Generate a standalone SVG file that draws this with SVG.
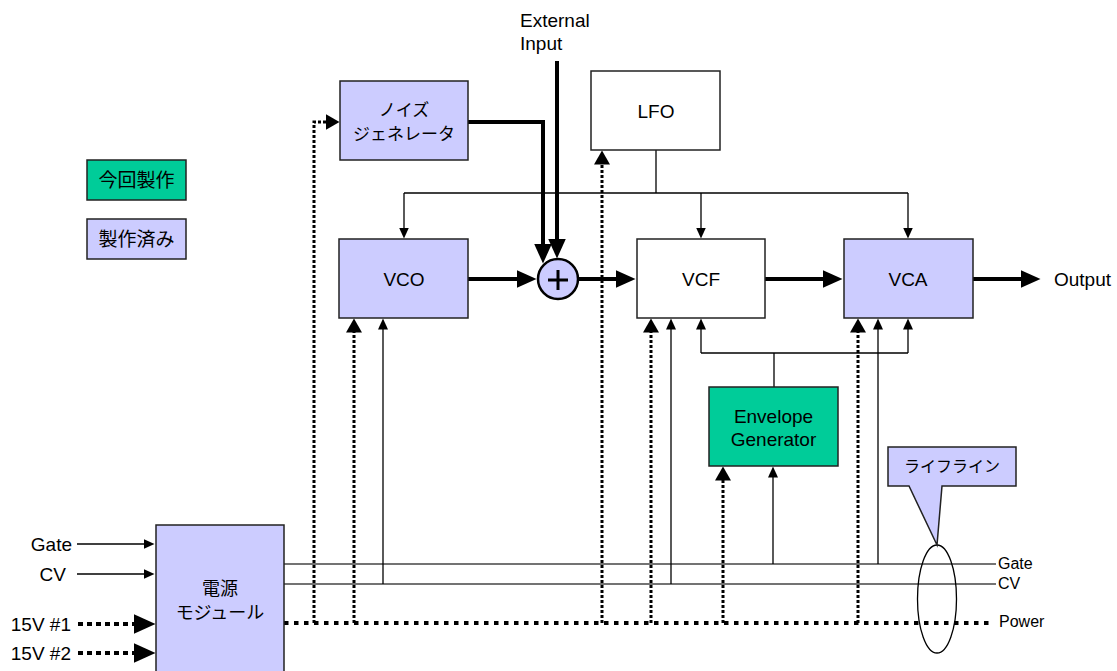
<svg xmlns="http://www.w3.org/2000/svg" width="1117" height="671" viewBox="0 0 1117 671">
<style>
.box{stroke:#222;stroke-width:1.5}
.lav{fill:#CCCCFF}
.grn{fill:#00CC99}
.wht{fill:#FFFFFF}
.t{font-family:"Liberation Sans",Arial,sans-serif;font-size:19px;fill:#000;text-anchor:middle}
.ts{font-family:"Liberation Sans",Arial,sans-serif;font-size:16px;fill:#000}
.j{font-family:"Liberation Sans","Noto Sans CJK JP",sans-serif;fill:#000;text-anchor:middle}
.thin{fill:none;stroke:#000;stroke-width:1.3}
.bus{fill:none;stroke:#444;stroke-width:1.5}
.thick{fill:none;stroke:#000;stroke-width:4}
.dot{fill:none;stroke:#000;stroke-width:3;stroke-dasharray:3 2}
.pwr{fill:none;stroke:#000;stroke-width:4;stroke-dasharray:4.5 5.5}
.pin{fill:none;stroke:#000;stroke-width:4;stroke-dasharray:5 4}
</style>
<defs>
<marker id="aThin" markerUnits="userSpaceOnUse" markerWidth="12" markerHeight="10" refX="0.5" refY="5" orient="auto"><path d="M0,0 L11,5 L0,10 z" fill="#000"/></marker>
<marker id="aDot" markerUnits="userSpaceOnUse" markerWidth="15" markerHeight="16" refX="0.5" refY="8" orient="auto"><path d="M0,0 L14,8 L0,16 z" fill="#000"/></marker>
<marker id="aThick" markerUnits="userSpaceOnUse" markerWidth="21" markerHeight="18" refX="0.5" refY="9" orient="auto"><path d="M0,0 L20,9 L0,18 z" fill="#000"/></marker>
<marker id="a15" markerUnits="userSpaceOnUse" markerWidth="23" markerHeight="20" refX="0.5" refY="10" orient="auto"><path d="M0,0 L22,10 L0,20 z" fill="#000"/></marker>
</defs>
<rect width="1117" height="671" fill="#FFFFFF"/>

<g id="connectors">
<!-- buses -->
<path class="bus" d="M284,564 H996"/>
<path class="bus" d="M284,584 H996"/>
<path class="pwr" d="M284,623 H992"/>
<!-- inputs to power module -->
<path class="thin" d="M77,544 H144" marker-end="url(#aThin)"/>
<path class="thin" d="M77,574 H144" marker-end="url(#aThin)"/>
<path class="pin" d="M78,624 H134" marker-end="url(#a15)"/>
<path class="pin" d="M78,653 H134" marker-end="url(#a15)"/>
<!-- LFO distribution -->
<path class="thin" d="M656,150 V193"/>
<path class="thin" d="M404,193 H908"/>
<path class="thin" d="M404,193 V228" marker-end="url(#aThin)"/>
<path class="thin" d="M701,193 V228" marker-end="url(#aThin)"/>
<path class="thin" d="M908,193 V228" marker-end="url(#aThin)"/>
<!-- EG distribution -->
<path class="thin" d="M701,353 H908"/>
<path class="thin" d="M701,353 V329" marker-end="url(#aThin)"/>
<path class="thin" d="M908,353 V329" marker-end="url(#aThin)"/>
<path class="thin" d="M774,353 V387"/>
<!-- CV / Gate taps -->
<path class="thin" d="M383,584 V329" marker-end="url(#aThin)"/>
<path class="thin" d="M671,584 V329" marker-end="url(#aThin)"/>
<path class="thin" d="M878,564 V329" marker-end="url(#aThin)"/>
<path class="thin" d="M773,564 V477" marker-end="url(#aThin)"/>
<!-- power taps -->
<path class="dot" d="M314,623 V122 H326" marker-end="url(#aDot)"/>
<path class="dot" d="M354,623 V332" marker-end="url(#aDot)"/>
<path class="dot" d="M602,623 V164" marker-end="url(#aDot)"/>
<path class="dot" d="M651,623 V332" marker-end="url(#aDot)"/>
<path class="dot" d="M723,623 V480" marker-end="url(#aDot)"/>
<path class="dot" d="M858,623 V332" marker-end="url(#aDot)"/>
<!-- audio path -->
<path class="thick" d="M557,61 V239" marker-end="url(#aThick)"/>
<path class="thick" d="M468,122 H543 V244" marker-end="url(#aThick)"/>
<path class="thick" d="M468,279 H517" marker-end="url(#aThick)"/>
<path class="thick" d="M578,279 H616" marker-end="url(#aThick)"/>
<path class="thick" d="M765,279 H823" marker-end="url(#aThick)"/>
<path class="thick" d="M973,279 H1021" marker-end="url(#aThick)"/>
</g>

<g id="legend-new">
<rect class="box grn" x="87" y="160" width="99" height="40"/>
<text class="j" x="136.5" y="187" font-size="19">今回製作</text>
</g>
<g id="legend-done">
<rect class="box lav" x="87" y="219" width="99" height="40"/>
<text class="j" x="136.5" y="246" font-size="19">製作済み</text>
</g>

<g id="noise">
<rect class="box lav" x="340" y="81" width="128" height="79"/>
<text class="j" x="404" y="116" font-size="17">ノイズ</text>
<text class="j" x="404" y="140" font-size="17">ジェネレータ</text>
</g>

<g id="external-input">
<text class="ts" x="520" y="27" font-size="19" style="font-size:19px">External</text>
<text class="ts" x="520" y="50" style="font-size:19px">Input</text>
</g>

<g id="lfo">
<rect class="box wht" x="591" y="71" width="129" height="79"/>
<text class="t" x="656" y="118">LFO</text>
</g>

<g id="vco">
<rect class="box lav" x="339" y="239" width="129" height="79"/>
<text class="t" x="404" y="286">VCO</text>
</g>

<g id="mixer">
<circle cx="558" cy="279" r="20" fill="#CCCCFF" stroke="#000" stroke-width="2.5"/>
<path d="M548,280 H568 M558,270 V290" stroke="#000" stroke-width="3" fill="none"/>
</g>

<g id="vcf">
<rect class="box wht" x="637" y="239" width="128" height="79"/>
<text class="t" x="701" y="286">VCF</text>
</g>

<g id="vca">
<rect class="box lav" x="844" y="239" width="129" height="79"/>
<text class="t" x="908" y="286">VCA</text>
</g>

<g id="output">
<text class="ts" x="1054" y="286" style="font-size:19px">Output</text>
</g>

<g id="eg">
<rect class="box grn" x="709" y="387" width="129" height="79"/>
<text class="t" x="773.5" y="423">Envelope</text>
<text class="t" x="773.5" y="446">Generator</text>
</g>

<g id="power-module">
<rect class="box lav" x="156" y="525" width="128" height="160"/>
<text class="j" x="220" y="595" font-size="18">電源</text>
<text class="j" x="220" y="619" font-size="18">モジュール</text>
</g>

<g id="input-labels">
<text class="ts" x="72" y="551" text-anchor="end" style="font-size:19px">Gate</text>
<text class="ts" x="66" y="581" text-anchor="end" style="font-size:19px">CV</text>
<text class="ts" x="71" y="631" text-anchor="end" style="font-size:19px">15V #1</text>
<text class="ts" x="71" y="660" text-anchor="end" style="font-size:19px">15V #2</text>
</g>

<g id="bus-labels">
<text class="ts" x="998" y="569">Gate</text>
<text class="ts" x="998" y="589">CV</text>
<text class="ts" x="999" y="627">Power</text>
</g>

<g id="lifeline">
<ellipse cx="937" cy="599" rx="19.5" ry="54" fill="none" stroke="#000" stroke-width="1.3"/>
<path class="box lav" d="M888,447 H1016 V486 H942 L937,545 L909,486 H888 Z"/>
<text class="j" x="952" y="472" font-size="16">ライフライン</text>
</g>
</svg>
